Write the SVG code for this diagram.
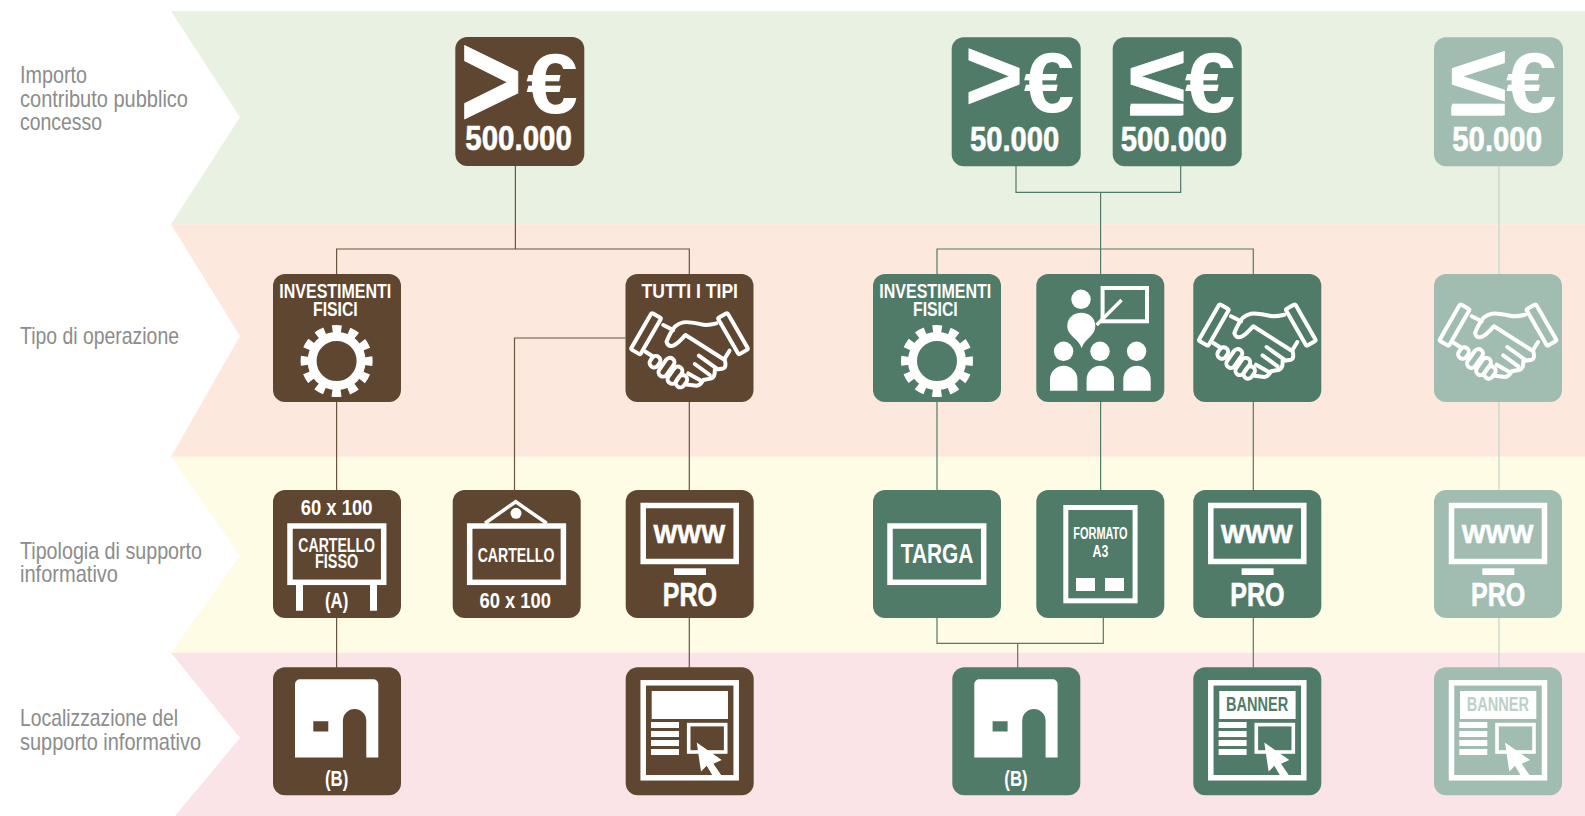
<svg xmlns="http://www.w3.org/2000/svg" width="1585" height="816" viewBox="0 0 1585 816">
<style>
.brown{color:#5f4631}.green{color:#517b69}.light{color:#a1bdb2}
.box{fill:currentColor}
.t{font-family:"Liberation Sans",Arial,sans-serif;font-weight:700;fill:#fff}
.lab{font-family:"Liberation Sans",Arial,sans-serif;font-size:24px;fill:#8c8c8c}
.sym{font-family:"Liberation Sans",Arial,sans-serif;font-weight:700;font-size:100px;fill:#fff}
.gt{stroke:#fff;stroke-width:.7}
.f18{font-size:20px}.f20{font-size:22px}
.f33{font-size:35px;stroke:#fff;stroke-width:.6}.f32{font-size:33px;stroke:#fff;stroke-width:.6}
.fat{stroke:#fff;stroke-width:.6}
.wire{fill:none;stroke-width:1.2}
.ln{fill:none;stroke:#fff;stroke-width:5.5}
.hs{fill:none;stroke:#fff;stroke-width:4;stroke-linejoin:round;stroke-linecap:round}
</style>
<defs>
<g id="gear"><circle cx="0" cy="0" r="24.5" fill="none" stroke="#fff" stroke-width="9"/><circle cx="0" cy="0" r="32" fill="none" stroke="#fff" stroke-width="8" stroke-dasharray="9 7.755" stroke-dashoffset="4.5"/></g>
<g id="shake" class="hs">
<rect x="-5.5" y="-21" width="11" height="42" rx="1.5" transform="translate(20.5,51) rotate(30)"/>
<rect x="-5.5" y="-21" width="11" height="42" rx="1.5" transform="translate(107.5,51) rotate(-30)"/>
<path d="M37.7 42.3L47.7 47.3M91 40.7C84 42.5 79 42.5 76 41.7C69 40.2 63 38.6 57.7 39.7C53 40.6 51 42.5 49.3 44C46 48 43 54 41 59C42 62.5 43.5 63.6 46 63.3C51 63.2 56 56 60 52.3L99.3 77.3C100.5 82 100 85 97.7 85.7L89.3 87C89.5 92 88 95 86 95.7L77.7 97.3C76 100.5 74 102.8 71 103L61 101.7"/>
<path d="M73.3 73L91 85.7M69.3 81.3L84.3 92.3M62.7 90.7L74.3 97.3M99.3 75.7L104 68M20 69L26.7 73.3"/>
<rect x="-4.5" y="-6" width="9" height="12" rx="4.5" transform="translate(29.5,79) rotate(35)"/>
<rect x="-4.5" y="-10.5" width="9" height="21" rx="4.5" transform="translate(41,84.5) rotate(35)"/>
<rect x="-4.5" y="-9.5" width="9" height="19" rx="4.5" transform="translate(49.5,92.5) rotate(35)"/>
<rect x="-4.5" y="-6.5" width="9" height="13" rx="4.5" transform="translate(56,98.5) rotate(35)"/>
</g>
<g id="board"><rect class="ln" x="17" y="36" width="93.7" height="56.3"/></g>
<g id="monitor"><rect class="ln" x="17.5" y="15.5" width="93" height="56"/><rect x="48.3" y="78.3" width="32" height="6.7" fill="#fff"/></g>
<path id="building" d="M22 90.3V17a5 5 0 0 1 5-5H100.3a5 5 0 0 1 5 5V90.3H93.3V53.4a11.7 11.7 0 0 0-23.4 0V90.3ZM40.3 54V64.3H55.3V54Z" fill="#fff" fill-rule="evenodd"/>
<g id="page"><rect class="ln" x="17.5" y="15.5" width="93" height="95"/>
<path fill="#fff" d="M25.3 54.7h28v6h-28zM25.3 63.7h28v6h-28zM25.3 72.7h28v6h-28zM25.3 81.7h28v6h-28z"/>
<rect x="63" y="57.3" width="37" height="27.4" fill="none" stroke="#fff" stroke-width="3.6"/>
<path fill="#fff" d="M71 75.3L96 92.7L87.7 96.5L97 110L89 112L81 98.5L75.3 104.3Z"/></g>
<rect id="lebar" x="17.3" y="68.7" width="51.7" height="9.6" fill="#fff"/>
</defs>

<g id="bands">
<path fill="#e9f1e2" d="M171 11H1585V224.3H171L240 117.3Z"/>
<path fill="#fce8dc" d="M171 224.3H1585V456.7H171L240 336Z"/>
<path fill="#fefce4" d="M171 456.7H1585V652.7H171L240 555.7Z"/>
<path fill="#fbe4e8" d="M171 652.7H1585V816H175L240 738Z"/>
</g>

<g id="labels">
<text class="lab" x="20" y="82.7" textLength="67" lengthAdjust="spacingAndGlyphs">Importo</text>
<text class="lab" x="20" y="106.7" textLength="168" lengthAdjust="spacingAndGlyphs">contributo pubblico</text>
<text class="lab" x="20" y="130" textLength="82" lengthAdjust="spacingAndGlyphs">concesso</text>
<text class="lab" x="20" y="344" textLength="159" lengthAdjust="spacingAndGlyphs">Tipo di operazione</text>
<text class="lab" x="20" y="559" textLength="182" lengthAdjust="spacingAndGlyphs">Tipologia di supporto</text>
<text class="lab" x="20" y="582" textLength="98" lengthAdjust="spacingAndGlyphs">informativo</text>
<text class="lab" x="20" y="725.7" textLength="158" lengthAdjust="spacingAndGlyphs">Localizzazione del</text>
<text class="lab" x="20" y="750" textLength="181" lengthAdjust="spacingAndGlyphs">supporto informativo</text>
</g>

<g id="connectors">
<path class="wire" stroke="#6b5440" d="M515.4 166V249M336.6 274V249H689.3V274M336.6 402V490M336.6 617V668M625.5 338H514.5V490M689.3 402V490M689.3 617V668"/>
<path class="wire" stroke="#517b69" d="M1016 166V192.3H1180.7V166M1100.6 192.3V274M937 274V249H1253.3V274M937 402V490M1100.6 402V490M1253.3 402V490M1253.3 617V668M937 617V643.3H1103.3V617M1017.7 643.3V668"/>
<path class="wire" stroke="#c3d3cb" d="M1499 166V668"/>
</g>

<g id="n-gt500k" class="brown" transform="translate(455.3,37)">
<rect class="box" width="129" height="129" rx="12"/>
<text class="sym gt" transform="translate(5,90) scale(1.06,1.36)">&gt;</text>
<text class="sym" transform="translate(71,76) scale(.93,.86)">€</text>
<text class="t f33" x="10" y="112.5" textLength="106.5" lengthAdjust="spacingAndGlyphs">500.000</text>
</g>
<g id="n-gt50k" class="green" transform="translate(951.7,37.3)">
<rect class="box" width="129" height="129" rx="12"/>
<text class="sym gt" transform="translate(13,72.3) scale(1,1.02)">&gt;</text>
<text class="sym" transform="translate(72,75) scale(.91,.85)">€</text>
<text class="t f33" x="18.3" y="114" textLength="89.3" lengthAdjust="spacingAndGlyphs">50.000</text>
</g>
<g id="n-le500k" class="green" transform="translate(1112.7,37.3)">
<rect class="box" width="129" height="129" rx="12"/>
<text class="sym gt" transform="translate(16,78) scale(1.04,1)">≤</text>
<use href="#lebar"/>
<text class="sym" transform="translate(72,75) scale(.91,.85)">€</text>
<text class="t f33" x="8" y="114" textLength="106" lengthAdjust="spacingAndGlyphs">500.000</text>
</g>
<g id="n-le50k" class="light" transform="translate(1434,37.3)">
<rect class="box" width="129" height="129" rx="12"/>
<text class="sym gt" transform="translate(16,78) scale(1.04,1)">≤</text>
<use href="#lebar"/>
<text class="sym" transform="translate(72,75) scale(.91,.85)">€</text>
<text class="t f33" x="18.3" y="114" textLength="89.7" lengthAdjust="spacingAndGlyphs">50.000</text>
</g>

<g id="n-op-fisici-b" class="brown" transform="translate(273,274)">
<rect class="box" width="128" height="128" rx="12"/>
<text class="t f18" x="6.3" y="24.3" textLength="112" lengthAdjust="spacingAndGlyphs">INVESTIMENTI</text>
<text class="t f18" x="40" y="41.7" textLength="44.7" lengthAdjust="spacingAndGlyphs">FISICI</text>
<use href="#gear" x="63.6" y="87"/>
</g>
<g id="n-op-tutti" class="brown" transform="translate(625.5,274)">
<rect class="box" width="128" height="128" rx="12"/>
<text class="t f18" x="16" y="24.3" textLength="96.5" lengthAdjust="spacingAndGlyphs">TUTTI I TIPI</text>
<use href="#shake" y="8.7"/>
</g>
<g id="n-op-fisici-g" class="green" transform="translate(873,274)">
<rect class="box" width="128" height="128" rx="12"/>
<text class="t f18" x="6.3" y="24.3" textLength="112" lengthAdjust="spacingAndGlyphs">INVESTIMENTI</text>
<text class="t f18" x="40" y="41.7" textLength="44.7" lengthAdjust="spacingAndGlyphs">FISICI</text>
<use href="#gear" x="64" y="87"/>
</g>
<g id="n-op-formazione" class="green" transform="translate(1036.3,274)">
<rect class="box" width="128" height="128" rx="12"/>
<rect x="66.3" y="14" width="44.4" height="33.3" fill="none" stroke="#fff" stroke-width="4"/>
<path d="M85.3 26L60.3 51" stroke="#fff" stroke-width="3.5" fill="none"/>
<g fill="#fff"><circle cx="44.7" cy="25.3" r="9.7"/><path d="M45.3 74.3C43 65 31 62 31 52C31 44 37 38.7 45 38.7C53 38.7 59 44 59 52C59 62 48 65 45.3 74.3Z"/>
<circle cx="27.3" cy="77.3" r="9.7"/><circle cx="63.7" cy="77.3" r="9.7"/><circle cx="100.3" cy="77.3" r="9.7"/>
<path d="M13.7 116.7V105.4a13.7 13.7 0 0 1 27.4 0V116.7ZM50.3 116.7V105.4a13.7 13.7 0 0 1 27.4 0V116.7ZM87 116.7V105.4a13.7 13.7 0 0 1 27.4 0V116.7Z"/></g>
</g>
<g id="n-op-tutti-g" class="green" transform="translate(1193.3,274)">
<rect class="box" width="128" height="128" rx="12"/>
<use href="#shake"/>
</g>
<g id="n-op-tutti-l" class="light" transform="translate(1434,274)">
<rect class="box" width="128" height="128" rx="12"/>
<use href="#shake"/>
</g>

<g id="n-cartello-fisso" class="brown" transform="translate(273,490)">
<rect class="box" width="128" height="128" rx="12"/>
<text class="t f20" x="27.7" y="25" textLength="71.7" lengthAdjust="spacingAndGlyphs">60 x 100</text>
<use href="#board"/>
<text class="t f18" x="25.3" y="61.7" textLength="76.7" lengthAdjust="spacingAndGlyphs">CARTELLO</text>
<text class="t f18" x="42" y="78.3" textLength="43.3" lengthAdjust="spacingAndGlyphs">FISSO</text>
<path fill="#fff" d="M23 95h7v25.7h-7zM97 95h7v25.7h-7z"/>
<text class="t f20" x="52" y="118" textLength="23.3" lengthAdjust="spacingAndGlyphs">(A)</text>
</g>
<g id="n-cartello" class="brown" transform="translate(452.7,490)">
<rect class="box" width="128" height="128" rx="12"/>
<path d="M32.3 33.3L63 11.7L94 33.3" fill="none" stroke="#fff" stroke-width="3.5"/>
<circle cx="63.3" cy="23.3" r="5.5" fill="#fff"/>
<use href="#board"/>
<text class="t f18" x="25" y="71.7" textLength="76.7" lengthAdjust="spacingAndGlyphs">CARTELLO</text>
<text class="t f20" x="26.7" y="117.7" textLength="71.7" lengthAdjust="spacingAndGlyphs">60 x 100</text>
</g>
<g id="n-www-b" class="brown" transform="translate(625.7,490)">
<rect class="box" width="128" height="128" rx="12"/>
<use href="#monitor"/>
<text class="t fat" font-size="26" x="27.7" y="52.7" textLength="71.7" lengthAdjust="spacingAndGlyphs">WWW</text>
<text class="t f32" x="37" y="116" textLength="54.3" lengthAdjust="spacingAndGlyphs">PRO</text>
</g>
<g id="n-targa" class="green" transform="translate(873,490)">
<rect class="box" width="128" height="128" rx="12"/>
<use href="#board"/>
<text class="t" font-size="28" x="27.7" y="73.3" textLength="72.7" lengthAdjust="spacingAndGlyphs">TARGA</text>
</g>
<g id="n-a3" class="green" transform="translate(1036.3,490)">
<rect class="box" width="128" height="128" rx="12"/>
<rect x="29.5" y="17.5" width="69.3" height="93.3" fill="none" stroke="#fff" stroke-width="5"/>
<text class="t" font-size="16" x="37" y="49" textLength="54.3" lengthAdjust="spacingAndGlyphs">FORMATO</text>
<text class="t" font-size="16" x="56.3" y="67.3" textLength="15.7" lengthAdjust="spacingAndGlyphs">A3</text>
<path fill="#fff" d="M39.7 88h19v13h-19zM68.7 88h19v13h-19z"/>
</g>
<g id="n-www-g" class="green" transform="translate(1193.3,490)">
<rect class="box" width="128" height="128" rx="12"/>
<use href="#monitor"/>
<text class="t fat" font-size="26" x="27.7" y="52.7" textLength="71.7" lengthAdjust="spacingAndGlyphs">WWW</text>
<text class="t f32" x="37" y="116" textLength="54.3" lengthAdjust="spacingAndGlyphs">PRO</text>
</g>
<g id="n-www-l" class="light" transform="translate(1434,490)">
<rect class="box" width="128" height="128" rx="12"/>
<use href="#monitor"/>
<text class="t fat" font-size="26" x="27.7" y="52.7" textLength="71.7" lengthAdjust="spacingAndGlyphs">WWW</text>
<text class="t f32" x="37" y="116" textLength="54.3" lengthAdjust="spacingAndGlyphs">PRO</text>
</g>

<g id="n-sede-b" class="brown" transform="translate(273,667.3)">
<rect class="box" width="128" height="128" rx="12"/>
<use href="#building"/>
<text class="t f20" x="52" y="119" textLength="23.3" lengthAdjust="spacingAndGlyphs">(B)</text>
</g>
<g id="n-web-b" class="brown" transform="translate(625.7,667.3)">
<rect class="box" width="128" height="128" rx="12"/>
<use href="#page"/>
<rect x="26" y="23.7" width="76.3" height="28" fill="#fff"/>
</g>
<g id="n-sede-g" class="green" transform="translate(952.3,667.3)">
<rect class="box" width="128" height="128" rx="12"/>
<use href="#building"/>
<text class="t f20" x="52" y="119" textLength="23.3" lengthAdjust="spacingAndGlyphs">(B)</text>
</g>
<g id="n-web-g" class="green" transform="translate(1193.3,667.3)">
<rect class="box" width="128" height="128" rx="12"/>
<use href="#page"/>
<rect x="26" y="23.7" width="76.3" height="28" fill="#fff"/>
<text class="f18" font-family="Liberation Sans, sans-serif" font-weight="700" fill="#517b69" x="32.7" y="43.3" textLength="62.3" lengthAdjust="spacingAndGlyphs">BANNER</text>
</g>
<g id="n-web-l" class="light" transform="translate(1434,667.3)">
<rect class="box" width="128" height="128" rx="12"/>
<use href="#page"/>
<rect x="26" y="23.7" width="76.3" height="28" fill="#fff"/>
<text class="f18" font-family="Liberation Sans, sans-serif" font-weight="700" fill="#bdd0c8" x="32.7" y="43.3" textLength="62.3" lengthAdjust="spacingAndGlyphs">BANNER</text>
</g>
</svg>
